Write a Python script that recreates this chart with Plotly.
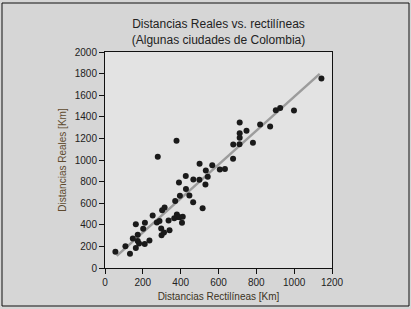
import numpy as np
import plotly.graph_objects as go

# Data (Km)
rectilineas = [55, 108, 132, 163, 147, 163, 173, 173, 180, 210, 235, 202, 211, 252,
               274, 288, 297, 299, 312, 302, 315, 336, 341, 371, 366, 380, 385, 395,
               411, 407, 396, 446, 391, 428, 466, 516, 427, 467, 499, 543, 531, 500,
               567, 533, 607, 634, 677, 279, 378, 678, 711, 712, 712, 712, 748, 782,
               820, 873, 903, 926, 999, 1144]
reales = [150, 202, 132, 186, 273, 406, 307, 251, 228, 222, 254, 363, 420, 486,
          421, 435, 366, 303, 328, 535, 560, 440, 350, 621, 460, 495, 472, 470,
          474, 419, 670, 672, 791, 732, 609, 554, 853, 819, 818, 846, 774, 965,
          952, 902, 911, 916, 1012, 1030, 1178, 1144, 1146, 1348, 1247, 1207, 1271, 1160,
          1328, 1310, 1461, 1482, 1459, 1755]

# Trend line
trend_slope = 1.57
trend_intercept = 15
trend_x = [62, 1135]

x_ticks = [0, 200, 400, 600, 800, 1000, 1200]
y_ticks = [0, 200, 400, 600, 800, 1000, 1200, 1400, 1600, 1800, 2000]

W, H = 411, 309
L, R, T, B = 105, 79, 52, 41
pw, ph = W - L - R, H - T - B

fig = go.Figure()
tx = np.array(trend_x, dtype=float)
fig.add_trace(go.Scatter(x=tx, y=trend_slope * tx + trend_intercept, mode="lines",
                         line=dict(color="#9c9c9c", width=2.5), hoverinfo="skip",
                         showlegend=False))
fig.add_trace(go.Scatter(x=rectilineas, y=reales, mode="markers",
                         marker=dict(color="#1a1a1a", size=6, line=dict(width=0)),
                         showlegend=False))

fig.update_layout(
    width=W, height=H,
    margin=dict(l=L, r=R, t=T, b=B, pad=0, autoexpand=False),
    paper_bgcolor="#d6d6d6",
    plot_bgcolor="#e3e3e3",
    font=dict(family="Liberation Sans, Arial, sans-serif", color="#222222", size=10),
    title=dict(text="Distancias Reales vs. rectilíneas<br>(Algunas ciudades de Colombia)",
               x=(L + pw / 2) / W, xanchor="center",
               y=1 - 28 / H, yanchor="middle", yref="container",
               font=dict(size=12, color="#222222")),
    xaxis=dict(range=[0, 1200], tickvals=x_ticks, showgrid=False, zeroline=False,
               automargin=False,
               showline=True, linecolor="#111111", linewidth=1, mirror=True,
               ticks="outside", ticklen=5, tickcolor="#111111",
               tickfont=dict(size=10, color="#222222"),
               title=dict(text="Distancias Rectilíneas [Km]", standoff=5,
                          font=dict(size=10, color="#3b3323"))),
    yaxis=dict(range=[0, 2000], tickvals=y_ticks, showgrid=False, zeroline=False,
               automargin=False,
               showline=True, linecolor="#111111", linewidth=1, mirror=True,
               ticks="outside", ticklen=5, tickcolor="#111111",
               tickfont=dict(size=10, color="#222222"),
               title=dict(text="Distancias Reales [Km]", standoff=6,
                          font=dict(size=10, color="#5e4a2e"))),
)

# Outer frame of the image
fig.add_shape(type="rect", xref="paper", yref="paper",
              x0=(2 - L) / pw, x1=(409 - L) / pw,
              y0=(H - B - 306) / ph, y1=(H - B - 3) / ph,
              line=dict(color="#111111", width=1), fillcolor="rgba(0,0,0,0)", layer="below")

fig.write_html("out.html", config={"displayModeBar": False},
               post_script="document.body.style.margin='0';document.body.style.overflow='hidden';")
